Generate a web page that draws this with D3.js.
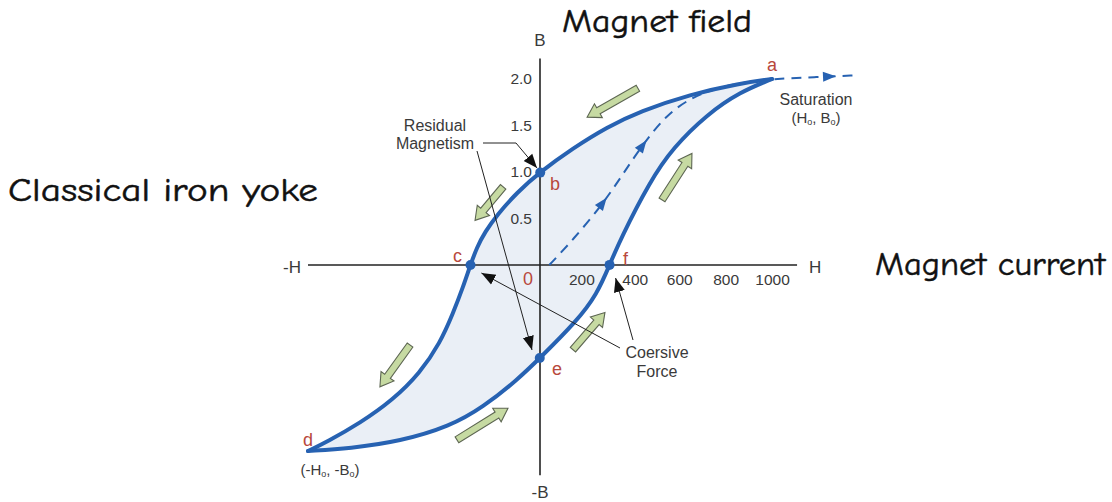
<!DOCTYPE html>
<html>
<head>
<meta charset="utf-8">
<script src="https://cdn.jsdelivr.net/npm/d3@7"></script>
<style>
  body { margin: 0; background: #fff; }
  svg text { font-family: "Liberation Sans", Arial, sans-serif; }
  .big { font-family: "Comic Sans MS", "Comic Neue", "DejaVu Sans", sans-serif !important; fill: #111; }
</style>
</head>
<body>
<div id="chart"></div>
<script>
// upper (descending) branch a -> b -> c -> d, H in A/m, B in T
var upperH = [1000, 862, 647, 431, 289, 142, 0, -99, -185, -237, -272, -300, -332, -375, -431, -517, -634, -776, -918, -1000];
var upperB = [2.0, 1.954, 1.835, 1.653, 1.483, 1.256, 1.0, 0.78, 0.54, 0.355, 0.19, 0, -0.24, -0.52, -0.84, -1.16, -1.45, -1.70, -1.90, -2.0];
// lower (ascending) branch d -> e -> f -> a
var lowerH = [-1000, -819, -603, -388, -246, -99, 0, 159, 246, 300, 345, 474, 573, 720, 862, 1000];
var lowerB = [-2.0, -1.972, -1.897, -1.735, -1.530, -1.238, -1.0, -0.602, -0.312, 0, 0.27, 0.90, 1.26, 1.62, 1.86, 2.0];
// initial magnetisation curve (dashed), continuing past saturation
var initH = [40, 142, 272, 358, 444, 547, 647, 746, 862, 1000, 1180, 1370];
var initB = [0, 0.27, 0.66, 0.98, 1.30, 1.62, 1.79, 1.89, 1.96, 2.0, 2.02, 2.04];
var initArrowH = [272, 444, 1250];

var hTicks = [200, 400, 600, 800, 1000];
var bTicks = [0.5, 1.0, 1.5, 2.0];

// named points on the loop
var pointNames = ["a", "b", "c", "d", "e", "f"];
var pointH = [1000, 0, -300, -1000, 0, 300];
var pointB = [2.0, 1.0, 0, -2.0, -1.0, 0];
var pointBranch = ["upper", "upper", "upper", "lower", "lower", "lower"];
var dotted = ["b", "c", "e", "f"];

// green direction arrows: tail (H,B) -> tip (H,B)
var arrowTailH = [422, 526, -159, -560, -358, 142];
var arrowTailB = [1.90, 0.70, 0.84, -0.86, -1.88, -0.91];
var arrowTipH = [203, 655, -280, -690, -138, 280];
var arrowTipB = [1.59, 1.20, 0.48, -1.31, -1.54, -0.51];

var W = 1112, H = 502;
var blue = "#2762b2", red = "#b8483c", grey = "#3a3a3a";

var svg = d3.select("#chart").append("svg").attr("width", W).attr("height", H);

var x = d3.scaleLinear().domain([0, 1000]).range([540, 772]);
var y = d3.scaleLinear().domain([0, 2]).range([265, 79]);

var upper = upperH.map((h, i) => [h, upperB[i]]);
var lower = lowerH.map((h, i) => [h, lowerB[i]]);
var init = initH.map((h, i) => [h, initB[i]]);

// basis smooths the hand-read points
var line = d3.line().x(d => x(d[0])).y(d => y(d[1])).curve(d3.curveBasis);

// loop fill
var fillPath = line(upper) + line(lower).replace(/^M/, "L") + "Z";
svg.append("path").attr("d", fillPath).attr("fill", "#eaeff6").attr("stroke", "none");

// axes lines
svg.append("line").attr("x1", x(-1000)).attr("x2", x(1108)).attr("y1", y(0)).attr("y2", y(0))
  .attr("stroke", "#222").attr("stroke-width", 1.6);
svg.append("line").attr("x1", x(0)).attr("x2", x(0)).attr("y1", y(2.22)).attr("y2", y(-2.26))
  .attr("stroke", "#222").attr("stroke-width", 1.6);

// tick labels via axes
var xAxis = svg.append("g").attr("transform", "translate(0," + y(0) + ")")
  .call(d3.axisBottom(x).tickValues(hTicks).tickSize(0).tickPadding(9).tickFormat(d3.format("d")));
xAxis.select(".domain").remove();
xAxis.selectAll("text").attr("font-size", 15.5).attr("fill", grey)
  .attr("font-family", "Liberation Sans, Arial, sans-serif")
  .attr("dx", d => d == 200 ? -5 : (d == 400 ? 2 : 0));

var yAxis = svg.append("g").attr("transform", "translate(" + x(0) + ",0)")
  .call(d3.axisLeft(y).tickValues(bTicks).tickSize(0).tickPadding(8).tickFormat(d3.format(".1f")));
yAxis.select(".domain").remove();
yAxis.selectAll("text").attr("font-size", 15.5).attr("fill", grey)
  .attr("font-family", "Liberation Sans, Arial, sans-serif");

// axis end labels
function label(tx, px, py, size, color, anchor) {
  return svg.append("text").attr("x", px).attr("y", py).attr("font-size", size)
    .attr("fill", color || "#222").attr("text-anchor", anchor || "middle").text(tx);
}
label("B", x(0), 46, 17, grey);
label("-B", x(0), 498, 17, grey);
label("-H", x(-1000) - 16, 273, 17, grey);
label("H", x(1108) + 18, 273, 17, grey);
label("0", x(0) - 12, 285, 18, red);

// dashed initial curve
var initPath = svg.append("path").attr("d", line(init)).attr("fill", "none")
  .attr("stroke", blue).attr("stroke-width", 2).attr("stroke-dasharray", "10,7");

// arrowheads along the dashed curve, located where the path reaches each H
var ip = initPath.node(), L = ip.getTotalLength();
initArrowH.forEach(function(h) {
  var tx = x(h), lo = 0, hi = L;
  for (var k = 0; k < 30; k++) {
    var mid = (lo + hi) / 2;
    if (ip.getPointAtLength(mid).x < tx) lo = mid; else hi = mid;
  }
  var p = ip.getPointAtLength(lo), q = ip.getPointAtLength(lo + 1);
  var ang = Math.atan2(q.y - p.y, q.x - p.x) * 180 / Math.PI;
  svg.append("path").attr("d", "M6,0 L-7,-5 L-7,5 Z").attr("fill", blue)
    .attr("transform", "translate(" + p.x + "," + p.y + ") rotate(" + ang + ")");
});

// loop branches
var branchNode = {};
[["upper", upper], ["lower", lower]].forEach(function(br) {
  branchNode[br[0]] = svg.append("path").attr("d", line(br[1])).attr("fill", "none")
    .attr("stroke", blue).attr("stroke-width", 4).attr("stroke-linecap", "round").node();
});

// nearest spot on a drawn branch to a target (so dots sit on the curve)
function onBranch(node, tx, ty) {
  var len = node.getTotalLength(), best = null, bd = Infinity;
  for (var s = 0; s <= len; s += 0.5) {
    var p = node.getPointAtLength(s), dd = (p.x - tx) * (p.x - tx) + (p.y - ty) * (p.y - ty);
    if (dd < bd) { bd = dd; best = p; }
  }
  return best;
}

pointNames.forEach(function(n, i) {
  if (dotted.indexOf(n) < 0) return;
  var p = onBranch(branchNode[pointBranch[i]], x(pointH[i]), y(pointB[i]));
  svg.append("circle").attr("cx", p.x).attr("cy", p.y).attr("r", 5).attr("fill", blue);
});

// point letters
var letterOff = { a: [0, -14], b: [15, 12], c: [-13, -9], d: [0, -11], e: [17, 11], f: [16, -6] };
pointNames.forEach(function(n, i) {
  var o = letterOff[n];
  label(n, x(pointH[i]) + o[0], y(pointB[i]) + o[1] + 6, 18, red);
});

// green block arrows
function blockArrow(x1, y1, x2, y2) {
  var len = Math.hypot(x2 - x1, y2 - y1), ang = Math.atan2(y2 - y1, x2 - x1) * 180 / Math.PI;
  var sw = 3.5, hw = 8, hl = 13;
  var pts = [[0, -sw], [len - hl, -sw], [len - hl, -hw], [len, 0], [len - hl, hw], [len - hl, sw], [0, sw]];
  svg.append("path").attr("d", "M" + pts.join("L") + "Z")
    .attr("fill", "#c6daa2").attr("stroke", "#5d6652").attr("stroke-width", 1.1)
    .attr("stroke-linejoin", "miter")
    .attr("transform", "translate(" + x1 + "," + y1 + ") rotate(" + ang + ")");
}
arrowTailH.forEach(function(h, i) {
  blockArrow(x(h), y(arrowTailB[i]), x(arrowTipH[i]), y(arrowTipB[i]));
});

// annotation pointers
var defs = svg.append("defs");
defs.append("marker").attr("id", "tri").attr("viewBox", "0 0 10 10").attr("refX", 10).attr("refY", 5)
  .attr("markerWidth", 14).attr("markerHeight", 14).attr("markerUnits", "userSpaceOnUse")
  .attr("orient", "auto").append("path").attr("d", "M0,1 L10,5 L0,9 Z").attr("fill", "#111");

function pointer(d) {
  svg.append("path").attr("d", d).attr("fill", "none").attr("stroke", "#222")
    .attr("stroke-width", 1).attr("marker-end", "url(#tri)");
}
pointer("M483,143 L516,143 L" + (x(0) - 3) + "," + (y(1.0) - 4));
pointer("M477,151 L" + (x(0) - 8) + "," + (y(-1.0) - 8));
pointer("M620,348 L" + (x(-300) + 11) + "," + (y(0) + 8));
pointer("M633,340 L" + (x(300) + 6) + "," + (y(0) + 13));

// annotation texts
label("Residual", 435, 131, 16, grey);
label("Magnetism", 435, 149, 16, grey);
label("Coersive", 657, 358, 16, grey);
label("Force", 657, 377, 16, grey);
label("Saturation", 816, 105, 16, grey);

function subLabel(parts, px, py) {
  var t = svg.append("text").attr("x", px).attr("y", py).attr("font-size", 15)
    .attr("fill", grey).attr("text-anchor", "middle");
  parts.forEach(function(p) {
    var s = t.append("tspan").text(p[0]);
    if (p[1]) s.attr("font-size", 9).attr("baseline-shift", "-2");
  });
}
subLabel([["(H"], ["o", 1], [", B"], ["o", 1], [")"]], 816, 123);
subLabel([["(-H"], ["o", 1], [", -B"], ["o", 1], [")"]], 330, 475);

// big titles
function big(tx, x0, x1, py) {
  svg.append("text").attr("class", "big").attr("x", x0).attr("y", py).attr("font-size", 33)
    .attr("stroke", "#111").attr("stroke-width", 0.5)
    .attr("textLength", x1 - x0).attr("lengthAdjust", "spacingAndGlyphs").text(tx);
}
big("Magnet field", 562, 752, 32);
big("Classical iron yoke", 8, 318, 201);
big("Magnet current", 875, 1105, 275);
</script>
</body>
</html>
